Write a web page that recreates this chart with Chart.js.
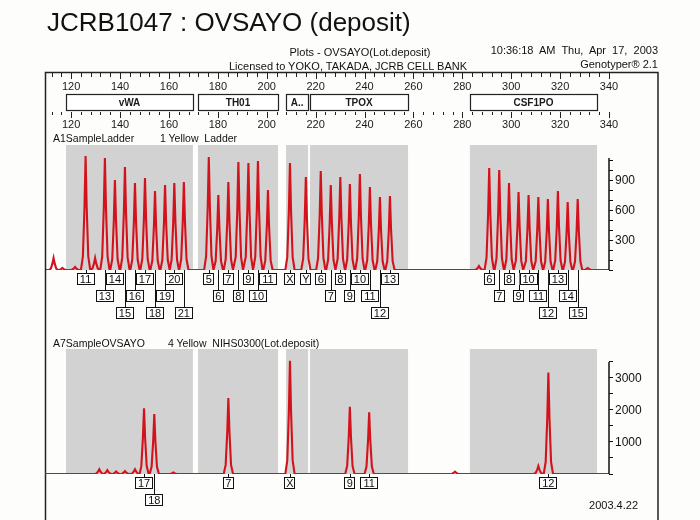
<!DOCTYPE html>
<html><head><meta charset="utf-8">
<script src="https://cdn.jsdelivr.net/npm/chart.js@4.4.1/dist/chart.umd.min.js"></script>
<style>
html,body{margin:0;padding:0;background:#fdfdfb;}
#wrap{position:relative;width:700px;height:520px;overflow:hidden;font-family:"Liberation Sans",Arial,sans-serif;color:#111;}
canvas{position:absolute;left:0;top:0;}
.t{position:absolute;white-space:pre;line-height:1;}
</style></head><body>
<div id="wrap">
<canvas id="c1" width="700" height="520"></canvas>
<canvas id="c2" width="700" height="520"></canvas>
<div class="t" style="left:47px;top:9px;font-size:26px;">JCRB1047 : OVSAYO (deposit)</div>
<div class="t" style="left:360px;top:46.6px;font-size:11px;transform:translateX(-50%);">Plots - OVSAYO(Lot.deposit)</div>
<div class="t" style="left:348px;top:60.6px;font-size:11px;transform:translateX(-50%);">Licensed to YOKO, TAKADA, JCRB CELL BANK</div>
<div class="t" style="right:42px;top:44.6px;font-size:11px;">10:36:18  AM  Thu,  Apr  17,  2003</div>
<div class="t" style="right:42px;top:58.6px;font-size:11px;">Genotyper® 2.1</div>
<div class="t" style="left:53px;top:132.9px;font-size:10.5px;">A1SampleLadder</div>
<div class="t" style="left:160px;top:132.9px;font-size:10.5px;">1 Yellow  Ladder</div>
<div class="t" style="left:53px;top:337.9px;font-size:10.5px;">A7SampleOVSAYO</div>
<div class="t" style="left:168px;top:337.9px;font-size:10.5px;">4 Yellow  NIHS0300(Lot.deposit)</div>
<div class="t" style="right:62px;top:499.6px;font-size:11px;">2003.4.22</div>
</div>
<script>
// ---- data ----
const binNames = ['vWA','TH01','A..','TPOX','CSF1PO'];
const binStart = [117.9,171.9,207.9,217.7,283.1];
const binEnd   = [169.8,204.6,216.9,257.8,335.1];
const rulerLabels = [120,140,160,180,200,220,240,260,280,300,320,340];
const ladderAxisLabels = [300,600,900];
const sampleAxisLabels = [1000,2000,3000];

const ladderAlleles = ['11','13','14','15','16','17','18','19','20','21',
  '5','6','7','8','9','10','11',
  'X','Y',
  '6','7','8','9','10','11','12','13',
  '6','7','8','9','10','11','12','13','14','15'];
const ladderSize = [125.9,133.8,137.9,142.0,146.1,150.2,154.3,158.4,162.2,166.1,
  176.3,180.2,184.3,188.4,192.5,196.4,200.5,
  209.5,216.0,
  222.1,226.2,230.1,234.0,238.1,242.2,246.3,250.4,
  291.0,295.1,299.1,303.0,307.1,311.1,315.0,319.1,323.1,327.2];
const ladderHeight = [1140,1120,900,1030,870,920,790,850,870,880,
  1130,750,880,1080,1070,1090,800,
  1070,930,
  990,850,930,860,960,830,730,740,
  1020,1000,870,780,750,730,710,790,680,710];
const ladderMinorSize = [112.8,116.4,121.6,129.8,286.8,331.3];
const ladderMinorHeight = [120,20,30,120,40,20];

const sampleAlleles = ['17','18','7','X','9','11','12'];
const sampleSize = [149.8,154.0,184.3,209.5,234.0,241.9,315.2];
const sampleHeight = [2050,1870,2370,3540,2100,1930,3170];
const sampleMinorSize = [131.5,134.8,138.4,142.0,146.1,161.8,277.0,311.1];
const sampleMinorHeight = [150,120,80,90,150,50,70,250];

// ---- drawing helpers ----
const F = '"Liberation Sans", Arial, sans-serif';
const RED = '#d3121c';
const BIN_FILL = '#d2d2d2';
const X_MIN = 109.3, X_MAX = 340;
const shapeDx = [-1.9,-1.1,-0.45,0,0.45,1.1,1.9];
const shapeFr = [0,0.12,0.55,1,0.55,0.12,0];

function buildTrace(sizes, heights, minorSizes, minorHeights){
  const peaks = sizes.map((s,i)=>({s, h:heights[i]}))
    .concat(minorSizes.map((s,i)=>({s, h:minorHeights[i]})))
    .sort((a,b)=>a.s-b.s);
  const pts = [{x:X_MIN,y:0}];
  peaks.forEach(p=>{
    shapeDx.forEach((d,k)=>{
      const px = p.s + d;
      if (px > pts[pts.length-1].x) pts.push({x:px, y:p.h*shapeFr[k]});
    });
  });
  pts.push({x:X_MAX,y:0});
  return pts;
}

function drawAlleleBoxes(chart, labels, sizes){
  const {ctx, scales:{x,y}} = chart;
  const base = y.getPixelForValue(0);
  const rowsRight = [];
  ctx.save();
  ctx.font = '11px '+F;
  ctx.textAlign = 'center';
  ctx.textBaseline = 'middle';
  ctx.strokeStyle = '#111';
  ctx.lineWidth = 1;
  labels.forEach((lab,i)=>{
    const px = x.getPixelForValue(sizes[i]);
    const w = lab.length > 1 ? 18 : 11;
    const l = px - w/2;
    let r = 0;
    while (rowsRight[r] !== undefined && rowsRight[r] + 3 > l) r++;
    rowsRight[r] = l + w;
    const top = base + 3 + r*17;
    ctx.beginPath();
    ctx.moveTo(Math.round(px)+0.5, base);
    ctx.lineTo(Math.round(px)+0.5, top);
    ctx.stroke();
    ctx.fillStyle = '#fff';
    ctx.fillRect(l, top, w, 12);
    ctx.strokeRect(Math.round(l)+0.5, top+0.5, w-1, 11);
    ctx.fillStyle = '#111';
    ctx.fillText(lab, px, top+6.5);
  });
  ctx.restore();
}

function drawYAxis(chart, topValue, axisLabels){
  const {ctx, chartArea, scales:{y}} = chart;
  ctx.save();
  ctx.strokeStyle = '#111';
  ctx.lineWidth = 1.5;
  ctx.beginPath();
  ctx.moveTo(chartArea.right, y.getPixelForValue(0));
  ctx.lineTo(chartArea.right, y.getPixelForValue(topValue));
  ctx.stroke();
  ctx.fillStyle = '#111';
  ctx.font = '12px '+F;
  ctx.textAlign = 'left';
  ctx.textBaseline = 'middle';
  axisLabels.forEach(v=>{
    ctx.fillText(String(v), chartArea.right + 6, y.getPixelForValue(v) + 0.5);
  });
  ctx.restore();
}

function drawBins(chart){
  const {ctx, chartArea, scales:{x,y}} = chart;
  const y0 = y.getPixelForValue(0);
  ctx.save();
  ctx.fillStyle = BIN_FILL;
  binStart.forEach((s,i)=>{
    const a = x.getPixelForValue(s), b = x.getPixelForValue(binEnd[i]);
    ctx.fillRect(a, chartArea.top, b-a, y0-chartArea.top);
  });
  ctx.restore();
}

function drawRulersAndFrame(chart){
  const {ctx, scales:{x}} = chart;
  ctx.save();
  ctx.strokeStyle = '#222';
  ctx.lineWidth = 1.5;
  ctx.beginPath();
  ctx.moveTo(45.5, 520); ctx.lineTo(45.5, 72.5); ctx.lineTo(658, 72.5); ctx.lineTo(658, 520);
  ctx.stroke();
  ctx.lineWidth = 1;
  for (let v = 112; v <= X_MAX + 0.01; v += 4){
    const px = Math.round(x.getPixelForValue(v)) + 0.5;
    const major = rulerLabels.includes(v);
    ctx.beginPath();
    ctx.moveTo(px, 73); ctx.lineTo(px, major ? 79 : 77);
    ctx.moveTo(px, 112); ctx.lineTo(px, major ? 118 : 115);
    ctx.stroke();
  }
  ctx.fillStyle = '#1a1a1a';
  ctx.font = '11px '+F;
  ctx.textAlign = 'center';
  ctx.textBaseline = 'middle';
  rulerLabels.forEach(v=>{
    const px = x.getPixelForValue(v);
    ctx.fillText(String(v), px, 87);
    ctx.fillText(String(v), px, 125);
  });
  ctx.font = 'bold 10px '+F;
  binNames.forEach((n,i)=>{
    const a = x.getPixelForValue(binStart[i]), b = x.getPixelForValue(binEnd[i]);
    ctx.fillStyle = '#fff';
    ctx.fillRect(a, 94, b-a, 17);
    ctx.strokeStyle = '#222';
    ctx.lineWidth = 1.2;
    ctx.strokeRect(Math.round(a)+0.5, 94.5, Math.round(b-a), 16);
    ctx.fillStyle = '#1a1a1a';
    ctx.fillText(n, (a+b)/2, 103);
  });
  ctx.restore();
}

function makeChart(id, trace, opts){
  return new Chart(document.getElementById(id), {
    type: 'line',
    data: { datasets: [{ data: trace, borderColor: RED, borderWidth: 2.1, pointRadius: 0, tension: 0, fill: false }] },
    options: {
      responsive: false, animation: false, devicePixelRatio: 1,
      layout: { padding: opts.padding },
      plugins: { legend: { display: false }, tooltip: { enabled: false }, title: { display: false } },
      scales: {
        x: { type: 'linear', min: X_MIN, max: X_MAX, display: false },
        y: {
          position: 'right', min: 0, max: opts.max,
          afterBuildTicks: s => {
            const t = [];
            for (let v = 0; v <= opts.lastTick; v += opts.step) t.push({ value: v });
            s.ticks = t;
          },
          afterFit: s => { s.width = 45; },
          ticks: { autoSkip: false, callback: () => '' },
          grid: { drawOnChartArea: false, drawTicks: true, tickLength: 4, color: '#111', lineWidth: 1 },
          border: { display: false }
        }
      }
    },
    plugins: [{
      id: 'decor'+id,
      beforeDatasetsDraw: c => drawBins(c),
      afterDraw: c => {
        drawYAxis(c, opts.axisTop, opts.axisLabels);
        drawAlleleBoxes(c, opts.labels, opts.sizes);
        if (opts.rulers) drawRulersAndFrame(c);
      }
    }]
  });
}

makeChart('c1', buildTrace(ladderSize, ladderHeight, ladderMinorSize, ladderMinorHeight), {
  padding: { left: 45, right: 46, top: 145, bottom: 250 },
  max: 1250, lastTick: 1100, step: 100, axisLabels: ladderAxisLabels, axisTop: 1120,
  labels: ladderAlleles, sizes: ladderSize, rulers: true
});
makeChart('c2', buildTrace(sampleSize, sampleHeight, sampleMinorSize, sampleMinorHeight), {
  padding: { left: 45, right: 46, top: 349, bottom: 46 },
  max: 3906, lastTick: 3500, step: 500, axisLabels: sampleAxisLabels, axisTop: 3500,
  labels: sampleAlleles, sizes: sampleSize, rulers: false
});
</script>
</body></html>
